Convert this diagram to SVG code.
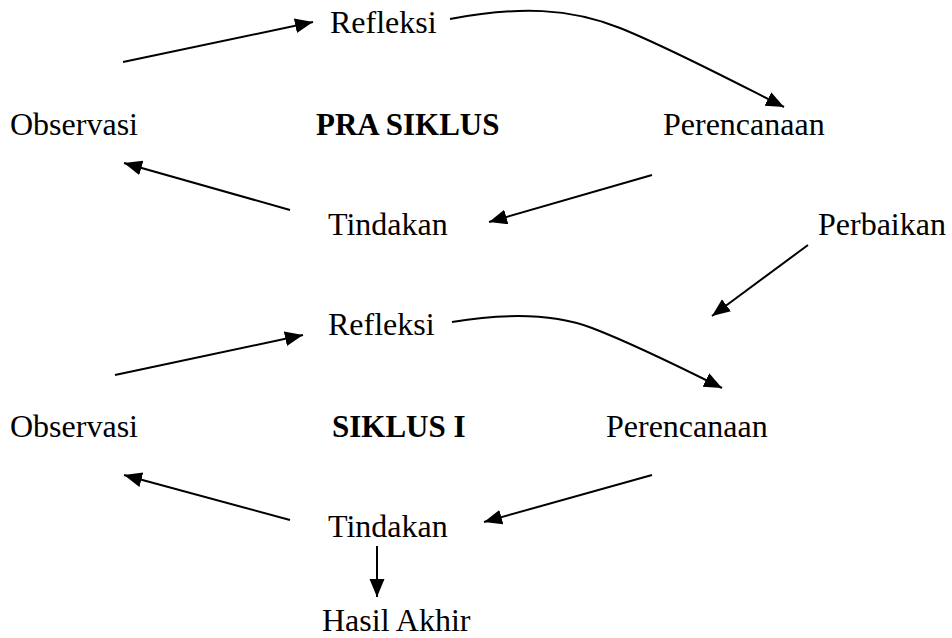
<svg xmlns="http://www.w3.org/2000/svg" width="952" height="638" viewBox="0 0 952 638">
<style>
text{font-family:"Liberation Serif","Times New Roman",serif;font-size:32px;fill:#000}
.b{font-weight:bold;font-size:31px}
.c{fill:none;stroke:#000;stroke-width:2;marker-end:url(#ah)}
</style>
<defs>
<marker id="ah" markerUnits="userSpaceOnUse" markerWidth="19" markerHeight="16" refX="18" refY="7.5" orient="auto">
<path d="M0,0 L18,7.5 L0,15 z" fill="#000"/>
</marker>
</defs>
<rect width="952" height="638" fill="#fff"/>
<g id="n-refleksi1"><text x="330" y="33">Refleksi</text></g>
<g id="n-observasi1"><text x="10" y="135">Observasi</text></g>
<g id="n-prasiklus"><text class="b" x="316" y="135">PRA SIKLUS</text></g>
<g id="n-perencanaan1"><text x="663" y="135">Perencanaan</text></g>
<g id="n-tindakan1"><text x="328" y="235">Tindakan</text></g>
<g id="n-perbaikan"><text x="818" y="235">Perbaikan</text></g>
<g id="n-refleksi2"><text x="328" y="335">Refleksi</text></g>
<g id="n-observasi2"><text x="10" y="437">Observasi</text></g>
<g id="n-siklus1"><text class="b" x="332" y="437">SIKLUS I</text></g>
<g id="n-perencanaan2"><text x="606" y="437">Perencanaan</text></g>
<g id="n-tindakan2"><text x="328" y="537">Tindakan</text></g>
<g id="n-hasil"><text x="322" y="631">Hasil Akhir</text></g>
<g id="connectors">
<path class="c" d="M123,62 L313,22"/>
<path class="c" d="M450,19 C520,6 570,8 620,28 S740,85 784,107"/>
<path class="c" d="M652,175 L489,222"/>
<path class="c" d="M290,210 L124,163"/>
<path class="c" d="M808,245 L712,316"/>
<path class="c" d="M115,375 L303,335"/>
<path class="c" d="M452,322 C500,314 550,312 592,328 S682,368 722,388"/>
<path class="c" d="M652,475 L484,522"/>
<path class="c" d="M290,520 L124,475"/>
<path class="c" d="M377,546 L377,597"/>
</g>
</svg>
